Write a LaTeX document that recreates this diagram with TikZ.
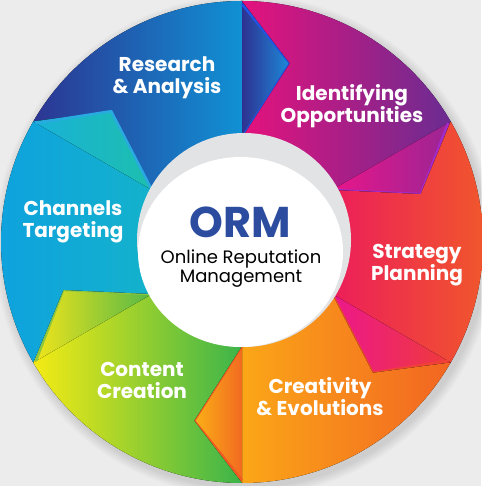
\documentclass[tikz,border=0pt]{standalone}
\usepackage{fontspec}
\setmainfont{Poppins}
\definecolor{bggray}{HTML}{ECECEC}
\definecolor{ringgray}{HTML}{E2E3E5}
\definecolor{ormblue}{HTML}{2B4C9F}
% body colours (left / right) and tip colours (left / right / edge)
\definecolor{resL}{HTML}{2C3592}\definecolor{resR}{HTML}{0AA6E4}
\definecolor{resTL}{HTML}{2E3192}\definecolor{resTR}{HTML}{1C8AD8}\definecolor{resTE}{HTML}{2255E6}
\definecolor{idfL}{HTML}{E5127D}\definecolor{idfR}{HTML}{6A2C91}
\definecolor{idfTL}{HTML}{E8168A}\definecolor{idfTR}{HTML}{9A2594}\definecolor{idfTE}{HTML}{A22BC9}
\definecolor{strL}{HTML}{EC1E5A}\definecolor{strR}{HTML}{F15A29}
\definecolor{strTL}{HTML}{EC178C}\definecolor{strTR}{HTML}{EF3B3A}\definecolor{strTE}{HTML}{EF4136}
\definecolor{creL}{HTML}{FDB515}\definecolor{creR}{HTML}{F26522}
\definecolor{creTL}{HTML}{FBB016}\definecolor{creTR}{HTML}{F26A21}\definecolor{creTE}{HTML}{F15A22}
\definecolor{conL}{HTML}{F5EB14}\definecolor{conR}{HTML}{3BB44A}
\definecolor{conTL}{HTML}{F2E51A}\definecolor{conTR}{HTML}{55B847}\definecolor{conTE}{HTML}{8DC63F}
\definecolor{chaL}{HTML}{0EA1DF}\definecolor{chaR}{HTML}{14B2CC}
\definecolor{chaTL}{HTML}{19B1D8}\definecolor{chaTR}{HTML}{1DBFAE}\definecolor{chaTE}{HTML}{29ABE2}
\tikzset{seglabel/.style={text=white,font=\bfseries\fontsize{20}{22}\selectfont,align=center,inner sep=0pt}}
\begin{document}
\begin{tikzpicture}[x=1pt,y=1pt]
	\useasboundingbox (0,0) rectangle (481,486);
	\fill[bggray] (0,0) rectangle (481,486);
	\coordinate (o) at (242,244);
	\foreach \i in {0,...,9}{\fill[black,opacity=0.012] ([shift={(3,-4)}]o) circle (251-\i);}
	\begin{scope}[shift={(o)}]
		\foreach \a/\bl/\br/\tl/\tr/\te in {150/resL/resR/resTL/resTR/resTE,90/idfL/idfR/idfTL/idfTR/idfTE,30/strL/strR/strTL/strTR/strTE,-30/creL/creR/creTL/creTR/creTE,-90/conL/conR/conTL/conTR/conTE,-150/chaL/chaR/chaTL/chaTR/chaTE}{
			\pgfmathsetmacro\b{\a-60}\pgfmathsetmacro\c{\a-75}\pgfmathsetmacro\d{\a-15}
			\fill[left color=\bl,right color=\br] (\a:241) arc[start angle=\a,end angle=\b,radius=241]--(\c:185)--(\b:104) arc[start angle=\b,end angle=\a,radius=104]--(\d:185)--cycle;
			\fill[left color=\tl,right color=\tr] (\b:241)--(\c:185)--(\b:104)--cycle;
			\draw[\te,line width=2.5pt,line join=round] (\b:238)--(\c:185)--(\b:104);
		}
	\end{scope}
	\fill[ringgray] (244,246) circle (107);
	\fill[white] (240.5,234) ellipse [x radius=102.5,y radius=95];
	\node[seglabel] (research) at (167,408) {Research\\\& Analysis};
	\node[seglabel] (identify) at (352,380) {Identifying\\Opportunities};
	\node[seglabel] (strategy) at (417,221) {Strategy\\Planning};
	\node[seglabel] (creative) at (320,89) {Creativity\\\& Evolutions};
	\node[seglabel] (content) at (142,106) {Content\\Creation};
	\node[seglabel] (channels) at (73,264) {Channels\\Targeting};
	\node[text=ormblue,font=\bfseries\fontsize{43}{43}\selectfont,inner sep=0pt] (orm) at (240,264) {ORM};
	\node[font=\fontsize{18}{19}\selectfont,align=center,inner sep=0pt] (ormtext) at (241,217) {Online Reputation\\Management};
\end{tikzpicture}
\end{document}
